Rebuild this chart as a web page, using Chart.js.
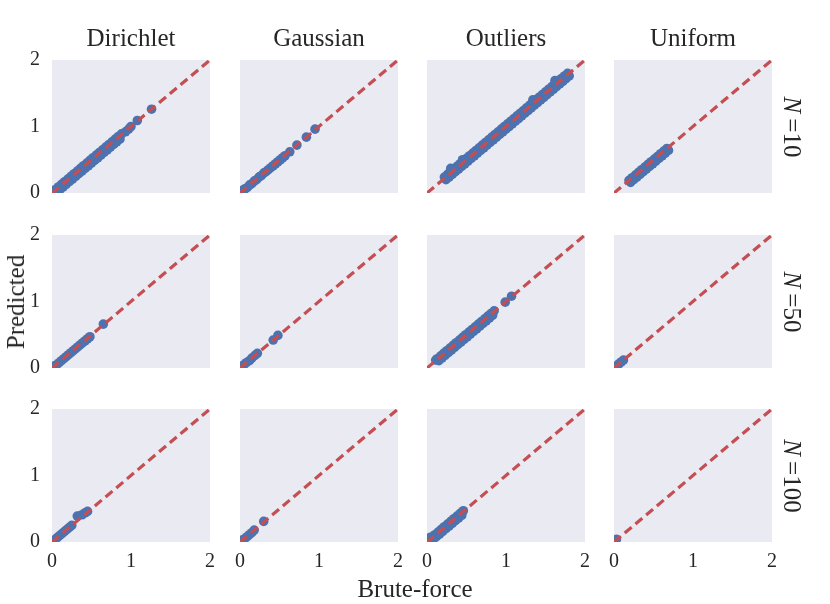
<!DOCTYPE html>
<html>
<head>
<meta charset="utf-8">
<script src="https://cdn.jsdelivr.net/npm/chart.js@4.4.1/dist/chart.umd.min.js"></script>
<style>
  body { margin: 0; background: #fff; }
  #wrap { position: relative; width: 830px; height: 604px; overflow: hidden; font-family: 'Liberation Serif', serif; color: #262626; }
  canvas { position: absolute; }
  .lbl { position: absolute; font-size: 25px; line-height: 30px; white-space: nowrap; }
</style>
</head>
<body>
<div id="wrap"></div>
<script>
// Panel grid: columns = distributions, rows = N
const distributions = ['Dirichlet', 'Gaussian', 'Outliers', 'Uniform'];
const sizes = [10, 50, 100];
const tickValues = [0, 1, 2];
const diagonal = [0, 2];

// Brute-force (x) vs Predicted (y)
// (thick bands are read as an upper and a lower run of points)
const bruteDir10 = [0.04,0.08,0.12,0.16,0.2,0.24,0.28,0.32,0.36,0.4,0.44,0.48,0.52,0.56,0.6,0.64,0.68,0.72,0.76,0.8,0.84,0.88,
                    0.06,0.1,0.14,0.18,0.22,0.26,0.3,0.34,0.38,0.42,0.46,0.5,0.54,0.58,0.62,0.66,0.7,0.74,0.78,0.82,0.86,
                    0.93,0.97,1.0,1.08,1.26];
const predDir10  = [0.05,0.09,0.13,0.17,0.21,0.25,0.29,0.33,0.37,0.41,0.45,0.49,0.53,0.57,0.61,0.65,0.69,0.73,0.77,0.81,0.85,0.89,
                    0.01,0.05,0.09,0.13,0.17,0.21,0.25,0.29,0.33,0.37,0.41,0.45,0.49,0.53,0.57,0.61,0.65,0.69,0.73,0.77,0.81,
                    0.92,0.96,1.0,1.09,1.26];

const bruteGau10 = [0.03,0.06,0.09,0.12,0.15,0.18,0.21,0.24,0.27,0.3,0.33,0.36,0.39,0.42,0.45,0.48,0.51,0.54,0.57,0.63,0.72,0.84,0.95];
const predGau10  = [0.04,0.06,0.08,0.12,0.14,0.18,0.2,0.24,0.26,0.3,0.32,0.35,0.38,0.41,0.44,0.47,0.5,0.53,0.56,0.62,0.72,0.84,0.96];

const bruteOut10 = [0.22,0.26,0.3,0.34,0.38,0.42,0.46,0.5,0.54,0.58,0.62,0.66,0.7,0.74,0.78,0.82,0.86,0.9,0.94,0.98,
                    1.02,1.06,1.1,1.14,1.18,1.22,1.26,1.3,1.34,1.38,1.42,1.46,1.5,1.54,1.58,1.62,1.66,1.7,1.74,1.78,
                    0.24,0.28,0.32,0.36,0.4,0.44,0.48,0.52,0.56,0.6,0.64,0.68,0.72,0.76,0.8,0.84,0.88,0.92,0.96,1.0,
                    1.04,1.08,1.12,1.16,1.2,1.24,1.28,1.32,1.36,1.4,1.44,1.48,1.52,1.56,1.6,1.64,1.68,1.72,1.76,1.8,
                    0.3,0.45,1.34,1.62];
const predOut10  = [0.24,0.28,0.32,0.36,0.4,0.44,0.48,0.52,0.56,0.6,0.64,0.68,0.72,0.76,0.8,0.84,0.88,0.92,0.96,1.0,
                    1.04,1.08,1.12,1.16,1.2,1.24,1.28,1.32,1.36,1.4,1.44,1.48,1.52,1.56,1.6,1.64,1.68,1.72,1.76,1.8,
                    0.2,0.24,0.28,0.32,0.36,0.4,0.44,0.48,0.52,0.56,0.6,0.64,0.68,0.72,0.76,0.8,0.84,0.88,0.92,0.96,
                    1.0,1.04,1.08,1.12,1.16,1.2,1.24,1.28,1.32,1.36,1.4,1.44,1.48,1.52,1.56,1.6,1.64,1.68,1.72,1.76,
                    0.37,0.5,1.4,1.69];

const bruteUni10 = [0.19,0.23,0.27,0.31,0.35,0.39,0.43,0.47,0.51,0.55,0.59,0.63,0.67,
                    0.21,0.25,0.29,0.33,0.37,0.41,0.45,0.49,0.53,0.57,0.61,0.65,0.69];
const predUni10  = [0.19,0.23,0.27,0.31,0.35,0.39,0.43,0.47,0.51,0.55,0.59,0.63,0.67,
                    0.16,0.2,0.24,0.28,0.32,0.36,0.4,0.44,0.48,0.52,0.56,0.6,0.64];

const bruteDir50 = [0.03,0.06,0.09,0.12,0.15,0.18,0.21,0.24,0.27,0.3,0.33,0.36,0.39,0.42,0.45,0.48,0.65];
const predDir50  = [0.03,0.05,0.08,0.11,0.14,0.17,0.2,0.23,0.26,0.29,0.32,0.35,0.38,0.41,0.44,0.47,0.66];

const bruteGau50 = [0.02,0.05,0.08,0.12,0.15,0.19,0.22,0.42,0.48];
const predGau50  = [0.02,0.05,0.08,0.11,0.15,0.19,0.22,0.42,0.49];

const bruteOut50 = [0.13,0.17,0.21,0.25,0.29,0.33,0.37,0.41,0.45,0.49,0.53,0.57,0.61,0.65,0.69,0.73,0.77,0.81,0.85,
                    0.15,0.19,0.23,0.27,0.31,0.35,0.39,0.43,0.47,0.51,0.55,0.59,0.63,0.67,0.71,0.75,0.79,0.83,
                    0.11,0.99,1.07];
const predOut50  = [0.14,0.18,0.22,0.26,0.3,0.34,0.38,0.42,0.46,0.5,0.54,0.58,0.62,0.66,0.7,0.74,0.78,0.82,0.86,
                    0.11,0.15,0.19,0.23,0.27,0.31,0.35,0.39,0.43,0.47,0.51,0.55,0.59,0.63,0.67,0.71,0.75,0.79,
                    0.12,0.99,1.08];

const bruteUni50 = [0.03,0.06,0.09,0.12];
const predUni50  = [0.03,0.06,0.09,0.12];

const bruteDir100 = [0.04,0.07,0.1,0.13,0.16,0.19,0.22,0.25,0.32,0.38,0.42,0.45];
const predDir100  = [0.04,0.07,0.1,0.13,0.16,0.19,0.22,0.25,0.39,0.41,0.44,0.46];

const bruteGau100 = [0.03,0.06,0.09,0.12,0.15,0.18,0.3];
const predGau100  = [0.03,0.05,0.08,0.11,0.14,0.18,0.31];

const bruteOut100 = [0.06,0.1,0.14,0.18,0.22,0.26,0.3,0.34,0.38,0.42,0.46,
                     0.08,0.12,0.16,0.2,0.24,0.28,0.32,0.36,0.4,0.44,
                     0.04];
const predOut100  = [0.07,0.11,0.15,0.19,0.23,0.27,0.31,0.35,0.39,0.43,0.47,
                     0.04,0.08,0.12,0.16,0.2,0.24,0.28,0.32,0.36,0.4,
                     0.07];

const bruteUni100 = [0.03];
const predUni100  = [0.04];

const panels = [
    [[bruteDir10, predDir10], [bruteGau10, predGau10], [bruteOut10, predOut10], [bruteUni10, predUni10]],
    [[bruteDir50, predDir50], [bruteGau50, predGau50], [bruteOut50, predOut50], [bruteUni50, predUni50]],
    [[bruteDir100, predDir100], [bruteGau100, predGau100], [bruteOut100, predOut100], [bruteUni100, predUni100]]
];

// layout (pixel positions of each plot area)
const colLeft = [52, 240, 427, 614];
const rowTop = [60, 235, 409];
const plotW = 158, plotH = 133;
// y tick padding adds to the scale's top padding, so keep room above the plot
const padL = 45, padT = 32, padR = 22, padB = 35;

const bgPlugin = {
    id: 'panelBg',
    beforeDraw(chart) {
        const { ctx, chartArea: a } = chart;
        ctx.save();
        ctx.fillStyle = '#EAEAF2';
        ctx.fillRect(a.left, a.top, a.right - a.left, a.bottom - a.top);
        ctx.restore();
    }
};

const wrap = document.getElementById('wrap');

function addLabel(text, x, y, rot) {
    const d = document.createElement('div');
    d.className = 'lbl';
    d.innerHTML = text;
    d.style.left = x + 'px';
    d.style.top = y + 'px';
    d.style.transform = 'translate(-50%, -50%)' + (rot ? ' rotate(' + rot + 'deg)' : '');
    wrap.appendChild(d);
}

function makePanel(r, c) {
    const [xs, ys] = panels[r][c];
    const showX = r === sizes.length - 1;
    const showY = c === 0;

    const canvas = document.createElement('canvas');
    canvas.width = plotW + padL + padR;
    canvas.height = plotH + padT + padB;
    canvas.style.left = (colLeft[c] - padL) + 'px';
    canvas.style.top = (rowTop[r] - padT) + 'px';
    wrap.appendChild(canvas);

    const tickFont = { family: "'Liberation Serif', serif", size: 20 };

    new Chart(canvas, {
        type: 'scatter',
        data: {
            datasets: [
                {
                    type: 'line',
                    data: diagonal.map(v => ({ x: v, y: v })),
                    borderColor: '#C44E52',
                    borderWidth: 3.2,
                    borderDash: [9, 5],
                    pointRadius: 0,
                    fill: false,
                    clip: 0
                },
                {
                    data: xs.map((v, i) => ({ x: v, y: ys[i] })),
                    backgroundColor: '#4C72B0',
                    borderWidth: 0,
                    pointRadius: 4.8,
                    clip: 0
                }
            ]
        },
        options: {
            responsive: false,
            animation: false,
            events: [],
            layout: { padding: { top: padT, right: padR, left: 0, bottom: 0 } },
            plugins: { legend: { display: false }, tooltip: { enabled: false } },
            scales: {
                x: {
                    type: 'linear',
                    min: 0,
                    max: 2,
                    afterBuildTicks: s => { s.ticks = tickValues.map(v => ({ value: v })); },
                    afterFit: s => { s.height = padB; },
                    ticks: { display: showX, color: '#262626', font: tickFont, padding: 8, maxRotation: 0 },
                    grid: { display: false, drawTicks: false },
                    border: { display: false }
                },
                y: {
                    type: 'linear',
                    min: 0,
                    max: 2,
                    afterBuildTicks: s => { s.ticks = tickValues.map(v => ({ value: v })); },
                    afterFit: s => { s.width = padL; },
                    ticks: { display: showY, color: '#262626', font: tickFont, padding: 12 },
                    grid: { display: false, drawTicks: false },
                    border: { display: false }
                }
            }
        },
        plugins: [bgPlugin]
    });
}

for (let r = 0; r < sizes.length; r++) {
    for (let c = 0; c < distributions.length; c++) {
        makePanel(r, c);
    }
}

// column titles, row labels, axis titles
distributions.forEach((name, c) => addLabel(name, colLeft[c] + plotW / 2, 38, 0));
sizes.forEach((n, r) => addLabel('<i>N</i>&#8201;=' + n, 792, rowTop[r] + plotH / 2, 90));
addLabel('Brute-force', 415, 589, 0);
addLabel('Predicted', 16, 302, -90);
</script>
</body>
</html>
